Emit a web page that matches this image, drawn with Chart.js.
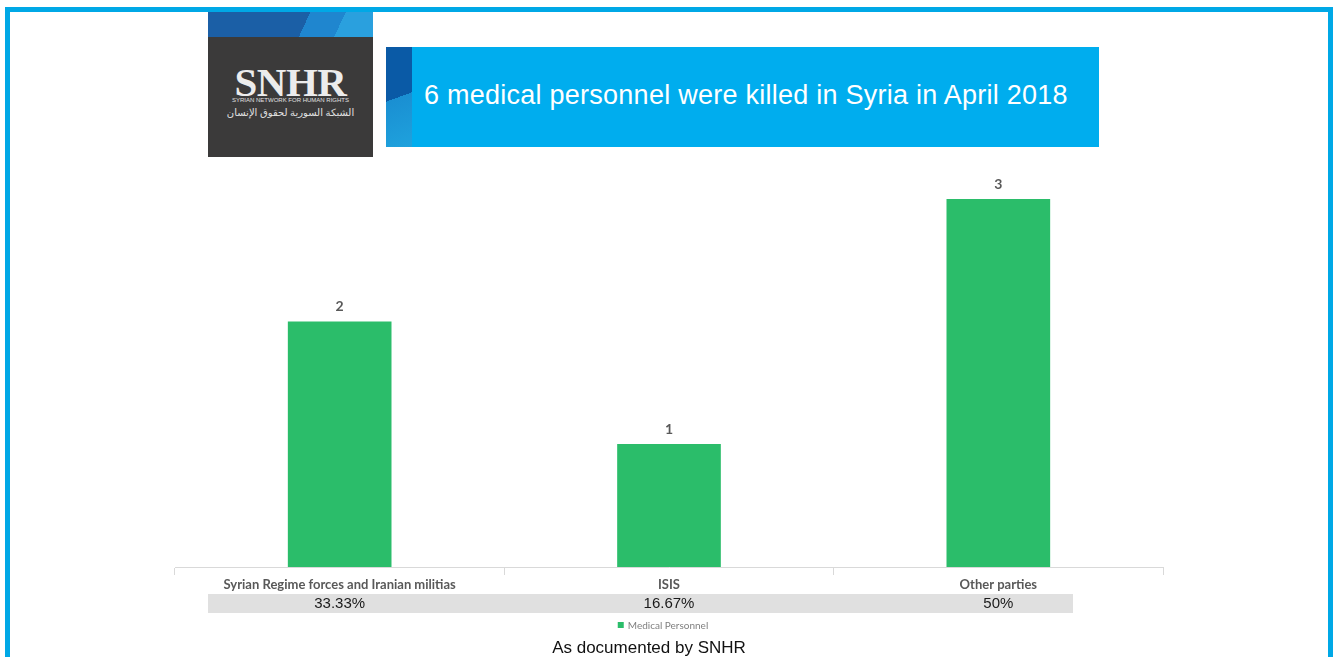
<!DOCTYPE html>
<html lang="en">
<head>
  <meta charset="UTF-8">
  <title>Medical personnel killed in Syria, April 2018</title>
  <script src="https://cdn.jsdelivr.net/npm/chart.js"></script>
  <style>
    html, body { margin: 0; padding: 0; background: #fff; }
    body { width: 1333px; height: 657px; position: relative; overflow: hidden; font-family: "Liberation Sans", Arial, sans-serif; }
    .frame { position: absolute; left: 5px; top: 7px; width: 1318px; height: 700px; border: 5px solid #00a8e6; box-sizing: content-box; }
    .logo { position: absolute; left: 208px; top: 12px; width: 165px; height: 145px; background: #3b3a3a; overflow: hidden; }
    .logo .band { position: absolute; left: 0; top: 0; width: 165px; height: 25px;
      background: linear-gradient(115deg, #1b5fa6 0%, #1b5fa6 58%, #1f86cf 58%, #1f86cf 78%, #2aa0de 78%, #2aa0de 100%); }
    .logo .name { position: absolute; left: 0; width: 165px; top: 46px; text-align: center; color: #ececec;
      font-family: "Liberation Serif", "DejaVu Serif", serif; font-weight: bold; font-size: 41px; letter-spacing: -0.5px; }
    .logo .sub { position: absolute; left: 0; width: 165px; top: 85px; text-align: center; color: #e0e0e0;
      font-family: "Liberation Sans Narrow", "Liberation Sans", sans-serif; font-size: 6px; }
    .logo .ar { position: absolute; left: 0; width: 165px; top: 93px; text-align: center; color: #e0e0e0;
      font-family: "Noto Sans", "DejaVu Sans", sans-serif; font-size: 10px; }
    .banner { position: absolute; left: 386px; top: 47px; width: 713px; height: 100px; background: #00adee; }
    .banner .strip { position: absolute; left: 0; top: 0; width: 26px; height: 100px;
      background: linear-gradient(160deg, #0a5aa6 0%, #0a5aa6 50%, #1a8fd2 50%, #1fa2dd 100%); }
    .banner .title { position: absolute; left: 38px; top: 33px; color: #fff; font-size: 27px; letter-spacing: 0.25px; white-space: nowrap; }
    .foot { position: absolute; left: 0; width: 1298px; top: 638px; text-align: center; font-size: 17px; color: #111; }
    #chart { position: absolute; left: 0; top: 0; }
  </style>
</head>
<body>
  <div class="frame"></div>
  <div class="logo">
    <div class="band"></div>
    <div class="name">SNHR</div>
    <div class="sub">SYRIAN NETWORK FOR HUMAN RIGHTS</div>
    <div class="ar">الشبكة السورية لحقوق الإنسان</div>
  </div>
  <div class="banner">
    <div class="strip"></div>
    <div class="title">6 medical personnel were killed in Syria in April 2018</div>
  </div>
  <canvas id="chart" width="1333" height="657"></canvas>
  <div class="foot">As documented by SNHR</div>

  <script>
    const categories = ['Syrian Regime forces and Iranian militias', 'ISIS', 'Other parties'];
    const victims = [2, 1, 3];
    const shares = ['33.33%', '16.67%', '50%'];
    const seriesName = 'Medical Personnel';

    const green = '#2bbd6a';

    const extras = {
      id: 'extras',
      afterDatasetsDraw(chart) {
        const ctx = chart.ctx;
        const meta = chart.getDatasetMeta(0);
        ctx.save();
        ctx.fillStyle = '#595959';
        ctx.font = 'bold 14px Lato, "Open Sans", sans-serif';
        ctx.textAlign = 'center';
        ctx.textBaseline = 'bottom';
        meta.data.forEach((bar, i) => {
          ctx.fillText(String(victims[i]), bar.x, bar.y - 8);
        });
        ctx.restore();
      },
      afterDraw(chart) {
        const ctx = chart.ctx;
        const xs = chart.scales.x;
        ctx.save();
        // percentage row
        ctx.fillStyle = '#e0e0e0';
        ctx.fillRect(208, 594, 865, 19);
        ctx.fillStyle = '#1a1a1a';
        ctx.font = '15px "Liberation Sans", Arial, sans-serif';
        ctx.textAlign = 'center';
        ctx.textBaseline = 'middle';
        shares.forEach((s, i) => {
          ctx.fillText(s, xs.getPixelForValue(i), 604);
        });
        // legend
        ctx.font = '10px Lato, "Open Sans", sans-serif';
        const tw = ctx.measureText(seriesName).width;
        const total = 6 + 4 + tw;
        const cx = (chart.chartArea.left + chart.chartArea.right) / 2 - 6;
        const lx = cx - total / 2;
        ctx.fillStyle = green;
        ctx.fillRect(lx, 622, 6, 6);
        ctx.fillStyle = '#808080';
        ctx.textAlign = 'left';
        ctx.fillText(seriesName, lx + 10, 625.5);
        ctx.restore();
      }
    };

    new Chart(document.getElementById('chart').getContext('2d'), {
      type: 'bar',
      data: {
        labels: categories,
        datasets: [{
          label: seriesName,
          data: victims,
          backgroundColor: green,
          barThickness: 103
        }]
      },
      options: {
        responsive: false,
        animation: false,
        layout: { padding: { left: 175, right: 170, top: 138, bottom: 42 } },
        plugins: { legend: { display: false }, tooltip: { enabled: false } },
        scales: {
          y: { display: false, min: 0, max: 3.5 },
          x: {
            afterFit: (scale) => { scale.height = 48; },
            grid: { drawOnChartArea: false, drawTicks: true, tickLength: 8, color: '#d9d9d9', offset: true },
            border: { color: '#d9d9d9' },
            ticks: {
              padding: 2,
              maxRotation: 0,
              color: '#595959',
              font: { family: 'Lato, "Open Sans", sans-serif', weight: 'bold', size: 13 }
            }
          }
        }
      },
      plugins: [extras]
    });
  </script>
</body>
</html>
